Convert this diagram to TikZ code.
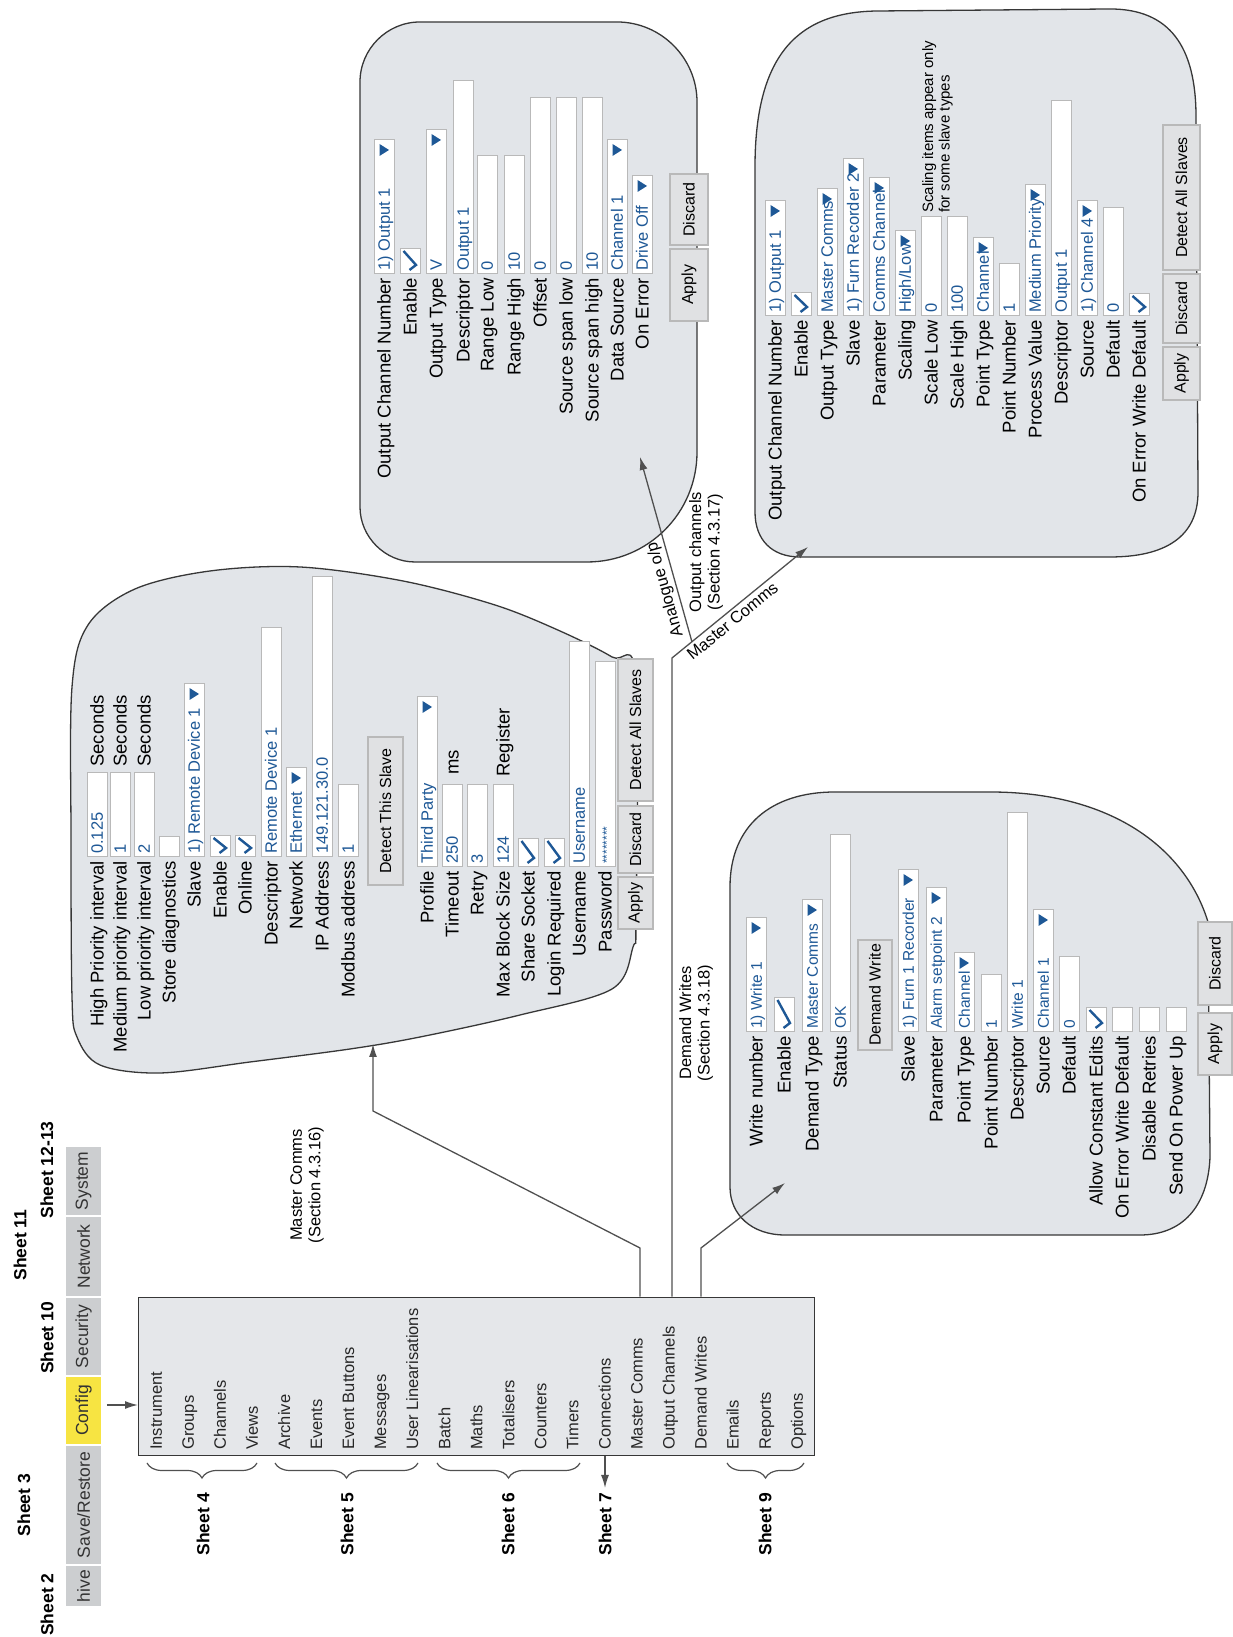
\documentclass[tikz,border=0pt]{standalone}
\usepackage{fontspec}
\setmainfont{Liberation Sans}
\usetikzlibrary{arrows.meta,decorations.pathreplacing}
\definecolor{panelfill}{RGB}{226,229,233}
\definecolor{menufill}{RGB}{229,231,234}
\definecolor{tabgray}{RGB}{204,206,208}
\definecolor{cfgyellow}{RGB}{247,228,66}
\definecolor{valblue}{RGB}{30,88,150}
\definecolor{edgegray}{RGB}{55,55,55}
\definecolor{linegray}{RGB}{80,80,80}
\definecolor{btnfill}{RGB}{224,225,227}
\newcommand\fsz[1]{\fontsize{#1}{#1}\selectfont}
\tikzset{
 lbl/.style={font=\fsz{18.5}, inner sep=0pt},
 lbltwo/.style={font=\fontsize{16.5}{18.5}\selectfont, inner sep=0pt, align=center},
 vtxt/.style={font=\fsz{16.5}, inner sep=0pt, text=valblue},
 fbox/.style={draw=gray!55, fill=white, line width=0.7pt, minimum height=20pt, inner sep=0pt},
 btn/.style={draw=gray!55, line width=2pt, fill=btnfill, font=\fsz{16}, inner sep=0pt},
 panel/.style={draw=edgegray, line width=1.3pt, fill=panelfill},
 conn/.style={draw=linegray, line width=1.3pt},
 arrowend/.style={-{Latex[length=13pt,width=8pt]}},
 sheet/.style={font=\bfseries\fsz{17.5}, inner sep=0pt},
 menuitem/.style={font=\fsz{16.5}, inner sep=0pt, text=black!85, anchor=base west},
 tab/.style={fill=tabgray, draw=white, line width=1.5pt, font=\fsz{17.5}, inner sep=0pt, minimum height=37pt, text=black!80},
 note/.style={font=\fontsize{15}{16.5}\selectfont, align=left, inner sep=0pt},
 brc/.style={decorate, decoration={brace, amplitude=15pt}, draw=linegray, line width=1.2pt}
}
\newcommand\Lbl[4]{\node[lbl, anchor=base east] (#1) at ({#2-4},{-#3-6.5}) {#4};}
\newcommand\Ebx[4]{\pgfmathsetmacro\myfw{#3-#2}\node[fbox, minimum width=\myfw pt, anchor=west] (#1) at (#2,-#4) {};}
\newcommand\Fld[5]{\Ebx{#1}{#2}{#3}{#4}\node[vtxt, anchor=base west] (#1t) at ({#2+3},{-#4-5.8}) {#5};}
\newcommand\Ddn[5]{\Fld{#1}{#2}{#3}{#4}{#5}\fill[valblue] ({#3-16},{-#4+4.5}) -- ({#3-4},{-#4+4.5}) -- ({#3-10},{-#4-5}) -- cycle;}
\newcommand\Chk[4]{\Ebx{#1}{#2}{#3}{#4}\draw[valblue, line width=2.4pt] ({#2+4},{-#4+0.5}) -- ({#2+9},{-#4-6}) -- ({#3-2},{-#4+6.5});}
\newcommand\Btn[6]{\pgfmathsetmacro\mybw{#3-#2}\pgfmathsetmacro\mybh{#5-#4}\pgfmathsetmacro\mybx{(#2+#3)/2}\pgfmathsetmacro\myby{-(#4+#5)/2}\node[btn, minimum width=\mybw pt, minimum height=\mybh pt] (#1) at (\mybx,\myby) {#6};}
\begin{document}
\begin{tikzpicture}[x=1pt,y=1pt]
\begin{scope}[rotate=90, transform shape]
\useasboundingbox (0,0) rectangle (1637,-1233);
\fill[white] (0,0) rectangle (1637,-1233);

% ---------- tabs ----------
\node[tab, minimum width=42pt] (thive) at (51,-83.5) {hive};
\node[tab, minimum width=120pt] (tsave) at (132,-83.5) {Save/Restore};
\node[tab, fill=cfgyellow, minimum width=69pt] (tcfg) at (226.5,-83.5) {Config};
\node[tab, minimum width=79pt] (tsec) at (300.5,-83.5) {Security};
\node[tab, minimum width=81pt] (tnet) at (380.5,-83.5) {Network};
\node[tab, minimum width=70pt] (tsys) at (456,-83.5) {System};

\node[sheet, anchor=west] (sh2) at (1,-47) {Sheet 2};
\node[sheet] (sh3) at (132,-24) {Sheet 3};
\node[sheet] (sh10) at (299,-47) {Sheet 10};
\node[sheet] (sh11) at (392,-20) {Sheet 11};
\node[sheet] (sh1213) at (467,-47) {Sheet 12-13};

% ---------- menu ----------
\node[draw=edgegray, line width=1.3pt, fill=menufill, minimum width=158pt, minimum height=676pt, anchor=north west, inner sep=0pt] (menu) at (181,-138) {};
\foreach \t [count=\i from 0] in {Instrument,Groups,Channels,Views,Archive,Events,Event Buttons,Messages,User Linearisations,Batch,Maths,Totalisers,Counters,Timers,Connections,Master Comms,Output Channels,Demand Writes,Emails,Reports,Options}
  \node[menuitem] (mi\i) at (187,{-(156+32.05*\i)-5.8}) {\t};

\coordinate (cfga) at ([xshift=5.5pt,yshift=-4pt]tcfg.south);
\draw[conn, arrowend] (cfga) -- (cfga |- menu.north);

\draw[brc] (174,-257) -- (174,-147);
\draw[brc] (174,-418) -- (174,-275);
\draw[brc] (174,-580) -- (174,-437);
\draw[brc] (174,-804) -- (174,-727);
\node[sheet, anchor=east] (sh4) at (144,-203) {Sheet 4};
\node[sheet, anchor=east] (sh5) at (144,-347) {Sheet 5};
\node[sheet, anchor=east] (sh6) at (144,-508) {Sheet 6};
\node[sheet, anchor=east] (sh7) at (144,-605) {Sheet 7};
\node[sheet, anchor=east] (sh9) at (144,-765) {Sheet 9};
\coordinate (s7tip) at (149,-605);
\draw[conn, arrowend] (menu.west |- s7tip) -- (s7tip);

% ---------- panels ----------
\draw[panel] plot[smooth cycle, tension=0.55] coordinates {(640,-72) (800,-71) (950,-72) (1012,-88) (1048,-135) (1066,-210) (1070,-300) (1056,-403) (1032,-495) (1006,-560) (980,-612) (960,-636) (720,-636) (690,-633) (648,-612) (622,-520) (600,-420) (588,-350) (575,-250) (564,-160) (572,-100) (600,-77)};
\draw[panel] (1130,-360) -- (1555,-360) .. controls (1588,-360) and (1615,-387) .. (1615,-420) -- (1615,-617) .. controls (1615,-661) and (1579,-697) .. (1535,-697) -- (1185,-697) .. controls (1124,-697) and (1075,-648) .. (1075,-587) -- (1075,-415) .. controls (1075,-385) and (1100,-360) .. (1130,-360) -- cycle;
\draw[panel] (1125,-755) -- (1470,-755) .. controls (1585,-755) and (1626,-800) .. (1626,-880) -- (1628,-1110) .. controls (1628,-1170) and (1590,-1196) .. (1520,-1196) -- (1145,-1198) .. controls (1100,-1198) and (1080,-1165) .. (1080,-1110) -- (1080,-800) .. controls (1080,-772) and (1097,-755) .. (1125,-755) -- cycle;
\draw[panel] (450,-730) -- (750,-730) .. controls (812,-730) and (845,-772) .. (845,-835) -- (845,-990) .. controls (845,-1110) and (790,-1185) .. (715,-1208) -- (480,-1210) .. controls (430,-1208) and (402,-1182) .. (402,-1140) -- (402,-785) .. controls (402,-752) and (422,-730) .. (450,-730) -- cycle;

% ---------- Master Comms panel ----------
\Lbl{mcl1}{780}{97}{High Priority interval}\Fld{mcv1}{780}{864}{97}{0.125}\node[lbl, anchor=base west] (mcs1) at (870,{-97-6.5}) {Seconds};
\Lbl{mcl2}{780}{120}{Medium priority interval}\Fld{mcv2}{780}{864}{120}{1}\node[lbl, anchor=base west] (mcs2) at (870,{-120-6.5}) {Seconds};
\Lbl{mcl3}{780}{144}{Low priority interval}\Fld{mcv3}{780}{864}{144}{2}\node[lbl, anchor=base west] (mcs3) at (870,{-144-6.5}) {Seconds};
\Lbl{mcl4}{780}{169}{Store diagnostics}\Ebx{mcv4}{780}{800}{169}
\Lbl{mcl5}{780}{194}{Slave}\Ddn{mcv5}{780}{953}{194}{1) Remote Device 1}
\Lbl{mcl6}{780}{220}{Enable}\Chk{mcv6}{780}{801}{220}
\Lbl{mcl7}{780}{245}{Online}\Chk{mcv7}{780}{801}{245}
\Lbl{mcl8}{780}{271}{Descriptor}\Fld{mcv8}{780}{1009}{271}{Remote Device 1}
\Lbl{mcl9}{780}{296}{Network}\Ddn{mcv9}{780}{869}{296}{Ethernet}
\Lbl{mcl10}{780}{322}{IP Address}\Fld{mcv10}{780}{1060}{322}{149.121.30.0}
\Lbl{mcl11}{780}{348}{Modbus address}\Fld{mcv11}{780}{852}{348}{1}
\Btn{mcbt1}{752}{900}{368}{403}{Detect This Slave}
\Lbl{mcl12}{770}{427}{Profile}\Ddn{mcv12}{770}{940}{427}{Third Party}
\Lbl{mcl13}{770}{452}{Timeout}\Fld{mcv13}{770}{852}{452}{250}\node[lbl, anchor=base west] (mcs13) at (862,{-452-6.5}) {ms};
\Lbl{mcl14}{770}{477}{Retry}\Fld{mcv14}{770}{852}{477}{3}
\Lbl{mcl15}{770}{503}{Max Block Size}\Fld{mcv15}{770}{852}{503}{124}\node[lbl, anchor=base west] (mcs15) at (860,{-503-6.5}) {Register};
\Lbl{mcl16}{770}{528}{Share Socket}\Chk{mcv16}{770}{798}{528}
\Lbl{mcl17}{770}{554}{Login Required}\Chk{mcv17}{770}{798}{554}
\Lbl{mcl18}{770}{579}{Username}\Fld{mcv18}{770}{995}{579}{Username}
\Lbl{mcl19}{770}{605}{Password}\Fld{mcv19}{770}{975}{605}{\fsz{12}********}
\Btn{mcbt2}{708}{760}{618}{653}{Apply}
\Btn{mcbt3}{764}{831}{618}{653}{Discard}
\Btn{mcbt4}{836}{978}{618}{653}{Detect All Slaves}

% ---------- Analogue panel ----------
\Lbl{anl1}{1363}{384}{Output Channel Number}\Ddn{anv1}{1363}{1497}{384}{1) Output 1}
\Lbl{anl2}{1363}{410}{Enable}\Chk{anv2}{1363}{1388}{410}
\Lbl{anl3}{1363}{436}{Output Type}\Ddn{anv3}{1363}{1507}{436}{V}
\Lbl{anl4}{1363}{463}{Descriptor}\Fld{anv4}{1363}{1556}{463}{Output 1}
\Lbl{anl5}{1363}{487}{Range Low}\Fld{anv5}{1363}{1481}{487}{0}
\Lbl{anl6}{1363}{514}{Range High}\Fld{anv6}{1363}{1481}{514}{10}
\Lbl{anl7}{1363}{540}{Offset}\Fld{anv7}{1363}{1539}{540}{0}
\Lbl{anl8}{1363}{566}{Source span low}\Fld{anv8}{1363}{1539}{566}{0}
\Lbl{anl9}{1363}{592}{Source span high}\Fld{anv9}{1363}{1539}{592}{10}
\Lbl{anl10}{1363}{617}{Data Source}\Ddn{anv10}{1363}{1497}{617}{Channel 1}
\Lbl{anl11}{1363}{642}{On Error}\Ddn{anv11}{1363}{1461}{642}{Drive Off}
\Btn{anb1}{1316}{1388}{670}{708}{Apply}
\Btn{anb2}{1392}{1463}{670}{708}{Discard}

% ---------- Output channels panel ----------
\Lbl{ocl1}{1321}{775}{Output Channel Number}\Ddn{ocv1}{1321}{1436}{775}{1) Output 1}
\Lbl{ocl2}{1321}{801}{Enable}\Chk{ocv2}{1321}{1344}{801}
\Lbl{ocl3}{1321}{827}{Output Type}\Ddn{ocv3}{1321}{1448}{827}{Master Comms}
\Lbl{ocl4}{1321}{853}{Slave}\Ddn{ocv4}{1321}{1478}{853}{1) Furn Recorder 2}
\Lbl{ocl5}{1321}{879}{Parameter}\Ddn{ocv5}{1321}{1459}{879}{Comms Channel}
\Lbl{ocl6}{1321}{905}{Scaling}\Ddn{ocv6}{1321}{1406}{905}{High/Low}
\Lbl{ocl7}{1321}{931}{Scale Low}\Fld{ocv7}{1321}{1420}{931}{0}
\Lbl{ocl8}{1321}{957}{Scale High}\Fld{ocv8}{1321}{1420}{957}{100}
\Lbl{ocl9}{1321}{983}{Point Type}\Ddn{ocv9}{1321}{1399}{983}{Channel}
\Lbl{ocl10}{1321}{1009}{Point Number}\Fld{ocv10}{1321}{1373}{1009}{1}
\Lbl{ocl11}{1321}{1035}{Process Value}\Ddn{ocv11}{1321}{1452}{1035}{Medium Priority}
\Lbl{ocl12}{1321}{1061}{Descriptor}\Fld{ocv12}{1321}{1536}{1061}{Output 1}
\Lbl{ocl13}{1321}{1087}{Source}\Ddn{ocv13}{1321}{1436}{1087}{1) Channel 4}
\Lbl{ocl14}{1321}{1113}{Default}\Fld{ocv14}{1321}{1429}{1113}{0}
\Lbl{ocl15}{1321}{1139}{On Error Write Default}\Chk{ocv15}{1321}{1343}{1139}
\node[note, anchor=north west] (ocnote) at (1424,-922) {Scaling items appear only\\for some slave types};
\Btn{ocb1}{1237}{1290}{1163}{1200}{Apply}
\Btn{ocb2}{1294}{1363}{1163}{1200}{Discard}
\Btn{ocb3}{1367}{1512}{1163}{1200}{Detect All Slaves}

% ---------- Demand Writes panel ----------
\begin{scope}[vtxt/.style={font=\fsz{15.5}, inner sep=0pt, text=valblue}]
\Lbl{dwl1}{605}{756}{Write number}\Ddn{dwv1}{605}{719}{756}{1) Write 1}
\Lbl{dwl2}{605}{784}{Enable}\Chk{dwv2}{605}{639}{784}
\Lbl{dwl3}{605}{812}{Demand Type}\Ddn{dwv3}{605}{737}{812}{Master Comms}
\Lbl{dwl4}{605}{840}{Status}\Fld{dwv4}{605}{802}{840}{OK}
\Btn{dwbt1}{587}{697}{858}{892}{Demand Write}
\Lbl{dwl5}{605}{908}{Slave}\Ddn{dwv5}{605}{767}{908}{1) Furn 1 Recorder}
\Lbl{dwl6}{605}{936}{Parameter}\Ddn{dwv6}{605}{749}{936}{Alarm setpoint 2}
\Lbl{dwl7}{605}{964}{Point Type}\Ddn{dwv7}{605}{684}{964}{Channel}
\Lbl{dwl8}{605}{991}{Point Number}\Fld{dwv8}{605}{662}{991}{1}
\Lbl{dwl9}{605}{1017}{Descriptor}\Fld{dwv9}{605}{824}{1017}{Write 1}
\Lbl{dwl10}{605}{1043}{Source}\Ddn{dwv10}{605}{727}{1043}{Channel 1}
\Lbl{dwl11}{605}{1069}{Default}\Fld{dwv11}{605}{680}{1069}{0}
\Lbl{dwl12}{605}{1096}{Allow Constant Edits}\Chk{dwv12}{605}{629}{1096}
\Lbl{dwl13}{605}{1122}{On Error Write Default}\Ebx{dwv13}{605}{629}{1122}
\Lbl{dwl14}{605}{1149}{Disable Retries}\Ebx{dwv14}{605}{629}{1149}
\Lbl{dwl15}{605}{1176}{Send On Power Up}\Ebx{dwv15}{605}{629}{1176}
\Btn{dwbt2}{562}{624}{1198}{1232}{Apply}
\Btn{dwbt3}{632}{715}{1198}{1232}{Discard}
\end{scope}

% ---------- captions ----------
\node[lbltwo] (capmc) at (452,-307) {Master Comms\\(Section 4.3.16)};
\node[lbltwo] (capoc) at (1085,-706) {Output channels\\(Section 4.3.17)};
\node[lbltwo] (capdw) at (614,-696) {Demand Writes\\(Section 4.3.18)};

% ---------- connectors ----------
\coordinate (mcbendA) at (389,-640);
\coordinate (mcbendB) at (526,-373);
\coordinate (mctip) at (593,-373);
\draw[conn, arrowend] (menu.east |- mcbendA) -- (mcbendA) -- (mcbendB) -- (mctip);
\coordinate (junc) at (979,-672);
\coordinate (octip) at (1090,-808);
\draw[conn, arrowend] (menu.east |- junc) -- (junc) -- node[lbltwo, sloped, below=3pt, pos=0.4] (capmc2) {Master Comms} (octip);
\coordinate (abr) at (995,-692);
\coordinate (atip) at (1180,-640);
\draw[conn, arrowend] (abr) -- node[lbltwo, sloped, above=3pt, pos=0.3] (capan) {Analogue o/p} (atip);
\coordinate (dwbendA) at (389,-701);
\coordinate (dwtip) at (454,-785);
\draw[conn, arrowend] (menu.east |- dwbendA) -- (dwbendA) -- (dwtip);
\end{scope}
\end{tikzpicture}
\end{document}
